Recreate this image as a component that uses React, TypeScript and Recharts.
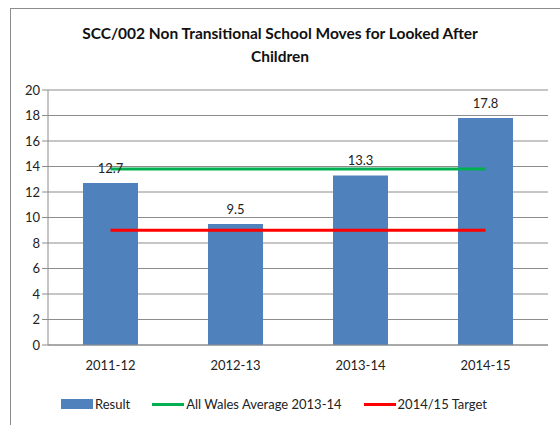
import { ComposedChart, Bar, Line, XAxis, YAxis, CartesianGrid, Legend, LabelList } from "recharts";

const years = ["2011-12", "2012-13", "2013-14", "2014-15"];
const result = [12.7, 9.5, 13.3, 17.8];
const walesAverage = [13.8, 13.8, 13.8, 13.8];
const target = [9, 9, 9, 9];
const yTicks = [0, 2, 4, 6, 8, 10, 12, 14, 16, 18, 20];
const legendOrder = ["Result", "All Wales Average 2013-14", "2014/15 Target"];

const data = years.map((year, i) => ({
  year,
  result: result[i],
  wales: walesAverage[i],
  target: target[i],
}));

const font = "Lato, 'Open Sans', sans-serif";

function LegendContent(props: any) {
  const items = [...(props.payload || [])].sort(
    (a: any, b: any) => legendOrder.indexOf(a.value) - legendOrder.indexOf(b.value)
  );
  return (
    <div style={{ display: "flex", justifyContent: "center", gap: 22, paddingTop: 15, fontFamily: font, fontSize: 13, color: "#222" }}>
      {items.map((item: any) => (
        <div key={item.value} style={{ display: "flex", alignItems: "center" }}>
          {item.type === "rect" ? (
            <span style={{ display: "inline-block", width: 32, height: 10, background: item.color, marginRight: 2 }} />
          ) : (
            <span style={{ display: "inline-block", width: 32, height: 3, background: item.color, marginRight: 2 }} />
          )}
          <span>{item.value}</span>
        </div>
      ))}
    </div>
  );
}

export default function App() {
  return (
    <div style={{ position: "fixed", left: 0, top: 0, width: 560, height: 425, background: "#fff", overflow: "hidden" }}>
      {/* chart frame */}
      <div style={{ position: "absolute", left: 10, top: 8, width: 560, height: 440, border: "1px solid #8c8c8c" }} />
      <div
        style={{
          position: "absolute",
          top: 22,
          left: 0,
          width: 560,
          textAlign: "center",
          fontFamily: font,
          fontWeight: 700,
          fontSize: 15.5,
          lineHeight: "23px",
          color: "#111",
        }}
      >
        SCC/002 Non Transitional School Moves for Looked After
        <br />
        Children
      </div>
      <div style={{ position: "absolute", left: 0, top: 0 }}>
        <ComposedChart width={560} height={425} data={data} margin={{ top: 90, right: 12, left: 0, bottom: 8 }} barCategoryGap="28%">
          <CartesianGrid vertical={false} stroke="#8c8c8c" />
          <XAxis
            dataKey="year"
            height={36}
            tickLine={false}
            stroke="#8c8c8c"
            tick={{ fill: "#222", fontSize: 13, fontFamily: font }}
            tickMargin={10}
          />
          <YAxis
            width={48}
            domain={[0, 20]}
            ticks={yTicks}
            stroke="#8c8c8c"
            tickSize={6}
            tick={{ fill: "#222", fontSize: 13, fontFamily: font }}
          />
          <Legend verticalAlign="bottom" height={36} content={<LegendContent />} />
          <Bar dataKey="result" name="Result" fill="#4F81BD" legendType="rect" isAnimationActive={false}>
            <LabelList dataKey="result" position="top" offset={10} fill="#222" fontSize={13} fontFamily={font} />
          </Bar>
          <Line
            dataKey="wales"
            name="All Wales Average 2013-14"
            stroke="#00B050"
            strokeWidth={3}
            dot={false}
            legendType="line"
            isAnimationActive={false}
          />
          <Line
            dataKey="target"
            name="2014/15 Target"
            stroke="#FF0000"
            strokeWidth={3}
            dot={false}
            legendType="line"
            isAnimationActive={false}
          />
        </ComposedChart>
      </div>
    </div>
  );
}
